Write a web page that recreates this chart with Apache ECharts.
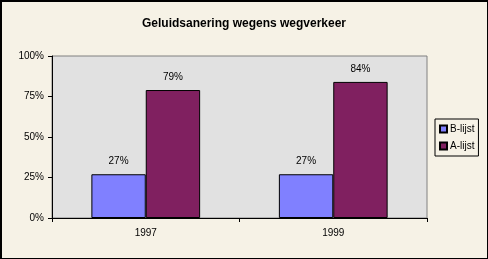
<!DOCTYPE html>
<html><head><meta charset="utf-8">
<script src="https://cdn.jsdelivr.net/npm/echarts@6/dist/echarts.min.js"></script>
<style>html,body{margin:0;padding:0;background:#F6F2E6}#c{width:488px;height:259px}</style>
</head><body><div id="c"></div>
<script>
var categories = ['1997', '1999'];
var bLijst = [0.27, 0.27];
var aLijst = [0.79, 0.84];
var yTicks = [0, 0.25, 0.5, 0.75, 1];

var chart = echarts.init(document.getElementById('c'));
var pct = function (v) { return Math.round(v * 100) + '%'; };
var lbl = { show: true, position: 'top', distance: 8, color: '#000', fontFamily: 'Arial', fontSize: 10, formatter: function (p) { return pct(p.value); } };
chart.setOption({
  backgroundColor: '#F6F2E6',
  animation: false,
  title: { text: 'Geluidsanering wegens wegverkeer', left: 'center', top: 13,
    textStyle: { fontFamily: 'Arial', fontSize: 12, fontWeight: 'bold', color: '#000' } },
  grid: { left: 52, top: 56, width: 375, height: 162, show: true, backgroundColor: '#E1E1E1', borderColor: '#808080', borderWidth: 1 },
  legend: { orient: 'vertical', left: 435, top: 119, width: 42, padding: [5, 4, 5, 4], itemGap: 7,
    borderColor: '#000', borderWidth: 1, itemWidth: 7, itemHeight: 7, icon: 'rect',
    textStyle: { fontFamily: 'Arial', fontSize: 10, color: '#000', padding: [0, 0, 0, -2] },
    data: ['B-lijst', 'A-lijst'] },
  xAxis: { type: 'category', data: categories,
    axisLine: { lineStyle: { color: '#000', width: 1 } },
    axisTick: { show: true, length: 4, lineStyle: { color: '#000' } },
    axisLabel: { color: '#000', fontFamily: 'Arial', fontSize: 10, margin: 10 } },
  yAxis: { type: 'value', min: yTicks[0], max: yTicks[yTicks.length - 1], interval: 0.25,
    splitLine: { show: false },
    axisLine: { show: true, lineStyle: { color: '#000', width: 1 } },
    axisTick: { show: true, length: 4, lineStyle: { color: '#000' } },
    axisLabel: { color: '#000', fontFamily: 'Arial', fontSize: 10, margin: 8, formatter: pct } },
  series: [
    { name: 'B-lijst', type: 'bar', data: bLijst, barGap: '0%', barCategoryGap: '42%',
      itemStyle: { color: '#8080FF', borderColor: '#000', borderWidth: 1 }, label: lbl },
    { name: 'A-lijst', type: 'bar', data: aLijst,
      itemStyle: { color: '#802060', borderColor: '#000', borderWidth: 1 }, label: lbl }
  ],
  graphic: [
    { type: 'rect', shape: { x: 0, y: 0, width: 2, height: 259 }, style: { fill: '#000' } },
    { type: 'rect', shape: { x: 0, y: 0, width: 488, height: 2 }, style: { fill: '#000' } },
    { type: 'rect', shape: { x: 487, y: 0, width: 1, height: 259 }, style: { fill: '#000' } },
    { type: 'rect', shape: { x: 0, y: 258, width: 488, height: 1 }, style: { fill: '#000' } }
  ]
});
</script></body></html>
